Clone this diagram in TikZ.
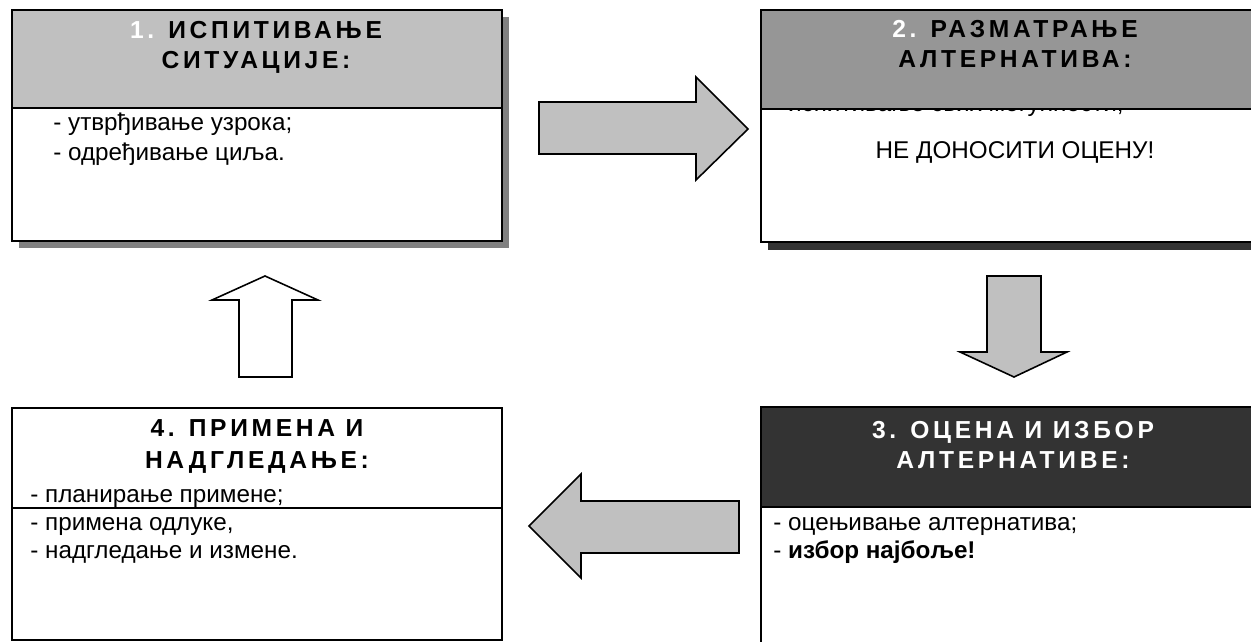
\documentclass[tikz,border=0pt]{standalone}
\usepackage{fontspec}
\setmainfont{Liberation Sans}
\newfontfamily\spacedfont[LetterSpace=15]{Liberation Sans}
\usetikzlibrary{positioning}
\definecolor{hdrlight}{HTML}{C0C0C0}
\definecolor{hdrmid}{HTML}{969696}
\definecolor{hdrdark}{HTML}{333333}
\definecolor{shadowgray}{HTML}{808080}

\begin{document}
\begin{tikzpicture}[
    x=0.02cm, y=-0.02cm,
    box/.style={draw=black, line width=1.5pt},
    title/.style={anchor=base, inner sep=0pt,
                  font=\spacedfont\bfseries\fontsize{14}{16}\selectfont},
    item/.style={anchor=base west, inner sep=0pt,
                 font=\fontsize{13.8}{16}\selectfont},
    blockarrow/.style={draw=black, line width=0.9pt, fill=hdrlight, line join=miter},
]
    \useasboundingbox (0,0) rectangle (1251,642);
    \clip (0,0) rectangle (1251,642);

    % Box 1
    \fill[shadowgray] (19,17) rectangle (509,248);
    \fill[white] (12,10) rectangle (502,241);
    \fill[hdrlight] (12,10) rectangle (502,108);
    \draw[box] (12,10) rectangle (502,241);
    \draw[box] (12,108) -- (502,108);
    \node[title] (t1a) at (256,39) {\textcolor{white}{1.} ИСПИТИВАЊЕ};
    \node[title] (t1b) at (256,69) {СИТУАЦИЈЕ:};
    \node[item] (i1a) at (53,131) {- утврђивање узрока;};
    \node[item] (i1b) at (53,160) {- одређивање циља.};

    % Box 2
    \fill[hdrdark] (768,17) rectangle (1272,250);
    \fill[white] (761,10) rectangle (1265,242);
    \node[item] (i2a) at (773,112) {- испитивање свих могућности;};
    \fill[hdrmid] (761,10) rectangle (1265,109);
    \draw[box] (761,10) rectangle (1265,242);
    \draw[box] (761,109) -- (1265,109);
    \node[title] (t2a) at (1015,38) {\textcolor{white}{2.} РАЗМАТРАЊЕ};
    \node[title] (t2b) at (1015,68) {АЛТЕРНАТИВА:};
    \node[item, anchor=base] (i2b) at (1015,158) {НЕ ДОНОСИТИ ОЦЕНУ!};

    % Box 3
    \fill[white] (761,407) rectangle (1265,660);
    \fill[hdrdark] (761,407) rectangle (1265,507);
    \draw[box] (761,407) rectangle (1265,660);
    \draw[box] (761,507) -- (1265,507);
    \node[title, text=white] (t3a) at (1013,438) {3. ОЦЕНА И ИЗБОР};
    \node[title, text=white] (t3b) at (1013,468) {АЛТЕРНАТИВЕ:};
    \node[item] (i3a) at (773,530) {- оцењивање алтернатива;};
    \node[item] (i3b) at (773,558) {- \textbf{избор најбоље!}};

    % Box 4
    \fill[white] (12,408) rectangle (502,640);
    \node[item] (i4a) at (30,502) {- планирање примене;};
    \draw[box] (12,408) rectangle (502,640);
    \draw[box] (12,508) -- (502,508);
    \node[title] (t4a) at (257,436) {4. ПРИМЕНА И};
    \node[title] (t4b) at (257,468) {НАДГЛЕДАЊЕ:};
    \node[item] (i4b) at (30,530) {- примена одлуке,};
    \node[item] (i4c) at (30,558) {- надгледање и измене.};

    % Arrows
    \draw[blockarrow] (539,102) -- (696,102) -- (696,77) -- (748,129)
        -- (696,180) -- (696,154) -- (539,154) -- cycle;
    \draw[blockarrow] (987,276) -- (1041,276) -- (1041,352) -- (1067,352)
        -- (1014,377) -- (960,352) -- (987,352) -- cycle;
    \draw[blockarrow] (739,501) -- (581,501) -- (581,474) -- (529,526)
        -- (581,578) -- (581,553) -- (739,553) -- cycle;
    \draw[blockarrow, fill=white] (239,377) -- (239,300) -- (212,300) -- (265,276)
        -- (318,300) -- (292,300) -- (292,377) -- cycle;
\end{tikzpicture}
\end{document}
